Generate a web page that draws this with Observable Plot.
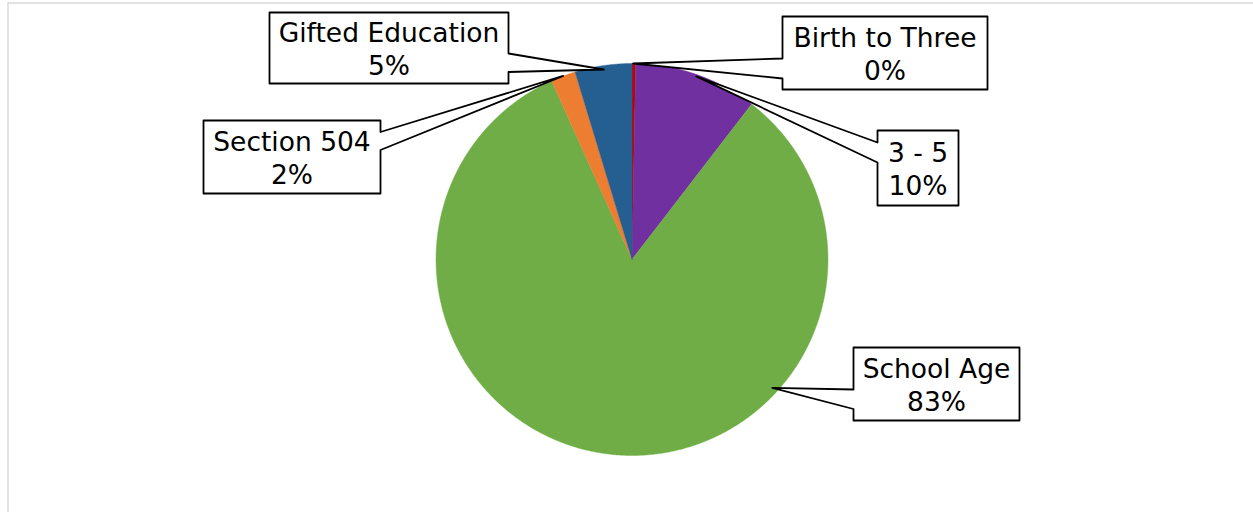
<!DOCTYPE html>
<html>
<head>
<meta charset="utf-8">
<script src="https://cdn.jsdelivr.net/npm/d3@7"></script>
<script src="https://cdn.jsdelivr.net/npm/@observablehq/plot@0.6"></script>
<style>
  html, body { margin: 0; padding: 0; background: #ffffff; }
  #chart svg { display: block; }
</style>
</head>
<body>
<div id="chart"></div>
<script>
// ---- data ----
const categories = ["Birth to Three", "3 - 5", "School Age", "Section 504", "Gifted Education"];
const shares = [0.3, 10.15, 82.82, 2.04, 4.69];           // percent of total
const shareLabels = ["0%", "10%", "83%", "2%", "5%"];
const colors = ["#C00000", "#7030A0", "#70AD47", "#ED7D31", "#255E91"];

// ---- layout (pixels) ----
const W = 1253, H = 512;
const cx = 631.5, cy = 259, R = 196;
// callout boxes: [left, top, right, bottom], side of the pointer notch, notch y-range,
// position of the pointer tip within the slice (angle fraction) and radius fraction
const boxes = [[782, 16, 987, 89], [877, 130, 958, 205], [853, 347, 1019, 420], [203, 120, 380, 193], [269, 12, 508, 83]];
const notchSide = ["left", "left", "left", "right", "right"];
const notchY = [[58, 78], [142, 162], [389, 408.5], [131.5, 149.5], [53, 71.5]];
const tipFrac = [0.3, 0.5, 0.318, 0.5, 0.5];
const tipRad = [1.0, 0.99, 0.97, 1.0, 0.98];

const pie = d3.pie().sort(null).value(d => d)(shares);
const px = a => cx + R * Math.sin(a);
const py = a => cy - R * Math.cos(a);

const sliceMarks = pie.map((s, i) => {
  const pts = [{x: cx, y: cy}];
  const n = Math.max(2, Math.ceil((s.endAngle - s.startAngle) / 0.005));
  for (let k = 0; k <= n; k++) {
    const a = s.startAngle + (s.endAngle - s.startAngle) * k / n;
    pts.push({x: px(a), y: py(a)});
  }
  return Plot.line(pts, {x: "x", y: "y", curve: "linear-closed", fill: colors[i], stroke: colors[i], strokeWidth: 0.4});
});

const calloutMarks = [];
const textRows = [];
categories.forEach((c, i) => {
  const s = pie[i];
  const a = s.startAngle + (s.endAngle - s.startAngle) * tipFrac[i];
  const tip = {x: cx + R * tipRad[i] * Math.sin(a), y: cy - R * tipRad[i] * Math.cos(a)};
  const [l, t, r, b] = boxes[i];
  const [n0, n1] = notchY[i];
  let pts;
  if (notchSide[i] === "left") {
    pts = [{x: l, y: t}, {x: r, y: t}, {x: r, y: b}, {x: l, y: b}, {x: l, y: n1}, tip, {x: l, y: n0}];
  } else {
    pts = [{x: l, y: t}, {x: r, y: t}, {x: r, y: n0}, tip, {x: r, y: n1}, {x: r, y: b}, {x: l, y: b}];
  }
  calloutMarks.push(Plot.line(pts, {x: "x", y: "y", curve: "linear-closed", fill: "white", stroke: "black", strokeWidth: 1.8}));
  textRows.push({x: (l + r) / 2, y: (t + b) / 2, text: c + "\n" + shareLabels[i]});
});

const plot = Plot.plot({
  width: W,
  height: H,
  margin: 0,
  x: {domain: [0, W], range: [0, W], axis: null},
  y: {domain: [0, H], range: [0, H], axis: null},
  style: {background: "white", fontFamily: "'DejaVu Sans', Verdana, sans-serif"},
  marks: [
    Plot.ruleY([2.5], {x1: 7.5, x2: W, stroke: "#d9d9d9", strokeWidth: 1.5}),
    Plot.ruleX([7.5], {y1: 2.5, y2: H, stroke: "#d9d9d9", strokeWidth: 1.5}),
    ...sliceMarks,
    ...calloutMarks,
    Plot.text(textRows, {x: "x", y: "y", text: "text", fontSize: 26.5, lineHeight: 1.25, textAnchor: "middle", lineAnchor: "middle", fill: "black", fontFamily: "'DejaVu Sans', Verdana, sans-serif"})
  ]
});
document.getElementById("chart").appendChild(plot);
</script>
</body>
</html>
